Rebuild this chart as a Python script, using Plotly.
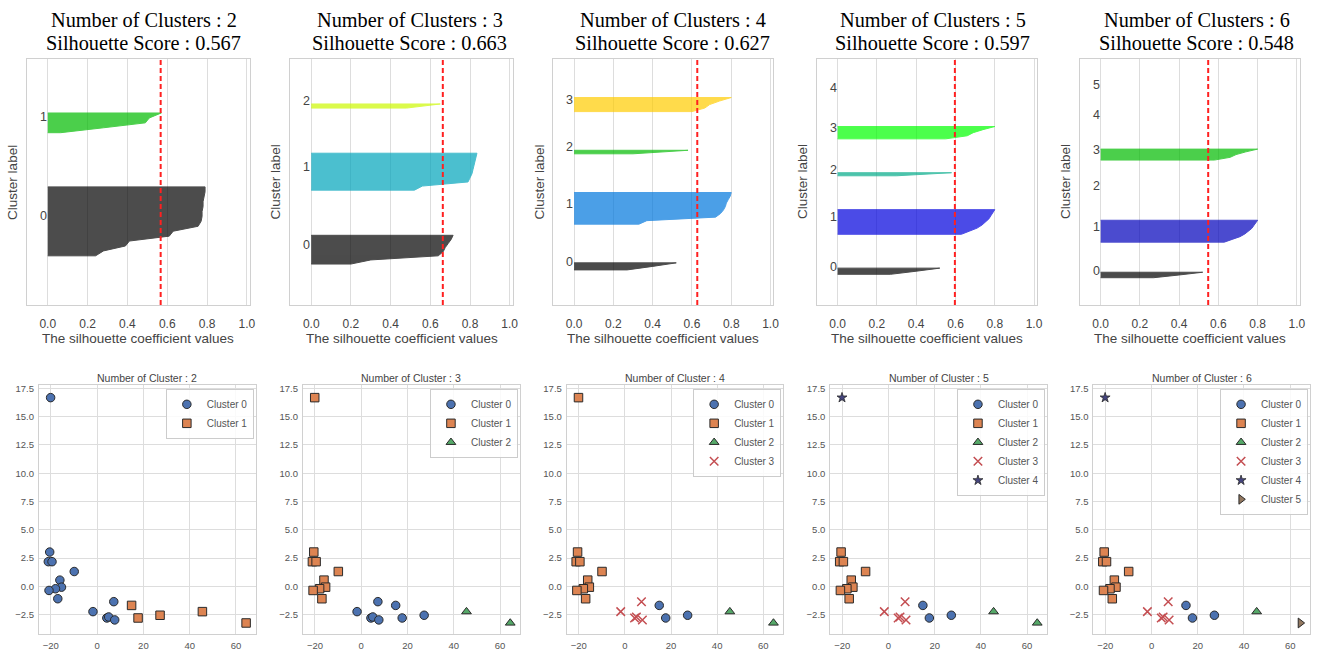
import plotly.graph_objects as go

W, H = 1327, 656

# ---------------- data ----------------
k_values = [2, 3, 4, 5, 6]
scores = [0.567, 0.663, 0.627, 0.597, 0.548]

# sorted silhouette values per cluster (ascending)
sil_k2 = [[0.24, 0.28, 0.39, 0.41, 0.61, 0.63, 0.755, 0.77, 0.775, 0.775, 0.78, 0.78, 0.785, 0.79, 0.79],
          [0.064, 0.28, 0.49, 0.51, 0.57]]
sil_k3 = [[0.2, 0.3, 0.64, 0.665, 0.675, 0.69, 0.705, 0.715],
          [0.52, 0.56, 0.79, 0.8, 0.81, 0.815, 0.82, 0.825, 0.83, 0.835],
          [0.48, 0.65]]
sil_k4 = [[0.27, 0.4, 0.52],
          [0.33, 0.37, 0.72, 0.745, 0.76, 0.77, 0.775, 0.785, 0.795, 0.8],
          [0.3, 0.58],
          [0.6, 0.665, 0.69, 0.74, 0.8]]
sil_k5 = [[0.27, 0.4, 0.52],
          [0.63, 0.67, 0.71, 0.735, 0.755, 0.77, 0.78, 0.79, 0.8],
          [0.3, 0.58],
          [0.55, 0.66, 0.69, 0.74, 0.8],
          [0.0]]
sil_k6 = [[0.27, 0.4, 0.52],
          [0.63, 0.67, 0.71, 0.735, 0.755, 0.77, 0.78, 0.79, 0.8],
          [0.0],
          [0.58, 0.66, 0.69, 0.74, 0.8],
          [0.0],
          [0.0]]
sil_all = [sil_k2, sil_k3, sil_k4, sil_k5, sil_k6]

# 2-D projected points
pts_x = [-20.1, -20.5, -21.1, -19.5, -9.9, -16.1, -15.4, -18.0, -20.8, -17.0,
         -1.8, 4.2, 5.0, 7.2, 7.6, 14.9, 17.7, 27.2, 45.5, 64.4]
pts_y = [16.67, 3.04, 2.19, 2.19, 1.32, 0.56, -0.06, -0.20, -0.35, -1.08,
         -2.22, -2.78, -2.69, -1.34, -2.95, -1.67, -2.78, -2.54, -2.22, -3.22]

labels_k2 = [0] * 15 + [1] * 5
labels_k3 = [1] * 10 + [0] * 8 + [2] * 2
labels_k4 = [1] * 10 + [3] * 5 + [0] * 3 + [2] * 2
labels_k5 = [4] + [1] * 9 + [3] * 5 + [0] * 3 + [2] * 2
labels_k6 = [4] + [1] * 9 + [3] * 5 + [0] * 3 + [2] + [5]
labels_all = [labels_k2, labels_k3, labels_k4, labels_k5, labels_k6]

x_ticks_sil = [0.0, 0.2, 0.4, 0.6, 0.8, 1.0]
x_ticks_sc = [-20, 0, 20, 40, 60]
y_ticks_sc = [-2.5, 0.0, 2.5, 5.0, 7.5, 10.0, 12.5, 15.0, 17.5]

# ---------------- styles ----------------
sil_colors = {
    2: ["#000000", "#00BB00"],
    3: ["#000000", "#00A4BB", "#CCF900"],
    4: ["#000000", "#0077DD", "#00BB00", "#FFCC00"],
    5: ["#000000", "#0000DD", "#00AA88", "#00FF00", "#FF9900"],
    6: ["#000000", "#0000BB", "#00A4BB", "#00BB00", "#CCF900", "#FF3300"],
}
sc_style = [
    dict(symbol="circle", color="#4C72B0", line=dict(color="#2a2a2a", width=1), size=8.5),
    dict(symbol="square", color="#DD8452", line=dict(color="#2a2a2a", width=1), size=8.5),
    dict(symbol="triangle-up", color="#55A868", line=dict(color="#2a2a2a", width=1), size=8.5),
    dict(symbol="x-thin-open", color="#C44E52", line=dict(color="#C44E52", width=1.5), size=8.5),
    dict(symbol="star", color="#45457E", line=dict(color="#2a2a2a", width=0.8), size=7.5),
    dict(symbol="triangle-right", color="#937860", line=dict(color="#2a2a2a", width=1), size=8.5),
]

# pixel frames
top_x = [(27, 251), (291.7, 515), (556, 777), (820.7, 1041.7), (1085, 1305.7)]
top_y = (57, 304)
bot_x = [(39, 257), (304.3, 522.3), (569.3, 786.7), (834, 1051.7), (1098.3, 1316)]
bot_y = (384, 634)
title_cx = [144.5, 411.5, 676, 937, 1202]

def px(x):
    return x / W

def py(y):
    return 1 - y / H

fig = go.Figure()
layout = dict(width=W, height=H, margin=dict(l=0, r=0, t=0, b=0),
              paper_bgcolor="white", plot_bgcolor="white", showlegend=True,
              font=dict(family="Arial, Liberation Sans, sans-serif", color="#444"))
annotations = []
grid_col = "#dddddd"
frame_col = "#d0d0d0"
serif = "Liberation Serif, Times New Roman, serif"

for i, k in enumerate(k_values):
    # ---- top: silhouette ----
    ax = 2 * i + 1
    xa, ya = f"x{ax}", f"y{ax}"
    n = len(pts_x)
    ymax = n + (k + 1) * 10
    y_lower = 10
    for c, vals in enumerate(sil_all[i]):
        size = len(vals)
        ys = list(range(y_lower, y_lower + size))
        poly_x = [0] + vals + [0]
        poly_y = [ys[0]] + ys + [ys[-1]]
        fig.add_trace(go.Scatter(x=poly_x, y=poly_y, xaxis=xa, yaxis=ya, mode="lines",
                                 fill="toself", fillcolor=sil_colors[k][c],
                                 line=dict(color=sil_colors[k][c], width=1),
                                 opacity=0.7, showlegend=False, hoverinfo="skip"))
        annotations.append(dict(x=-0.05, y=y_lower + 0.5 * size, xref=xa, yref=ya,
                                text=str(c), showarrow=False, xanchor="left", yanchor="middle",
                                yshift=3, font=dict(size=12.5, color="#444")))
        y_lower = y_lower + size + 10
    fig.add_trace(go.Scatter(x=[scores[i], scores[i]], y=[0, ymax], xaxis=xa, yaxis=ya,
                             mode="lines", line=dict(color="#FF2020", width=2, dash="5px,3px"),
                             showlegend=False, hoverinfo="skip"))
    layout[f"xaxis{ax}"] = dict(domain=[px(top_x[i][0]), px(top_x[i][1])], anchor=ya,
                                range=[-0.105, 1.015], tickvals=x_ticks_sil, tickformat=".1f",
                                showgrid=True, gridcolor=grid_col, gridwidth=1, zeroline=False,
                                showline=True, mirror=True, linecolor=frame_col,
                                ticks="outside", ticklen=8, tickcolor="rgba(0,0,0,0)",
                                tickfont=dict(size=12, color="#444"))
    layout[f"yaxis{ax}"] = dict(domain=[py(top_y[1]), py(top_y[0])], anchor=xa,
                                range=[0, ymax], showticklabels=False, showgrid=False,
                                zeroline=False, showline=True, mirror=True, linecolor=frame_col)
    # titles
    annotations.append(dict(x=px(title_cx[i]), y=py(18), xref="paper", yref="paper",
                            text=f"Number of Clusters : {k}", showarrow=False,
                            xanchor="center", yanchor="middle",
                            font=dict(family=serif, size=20.3, color="#000")))
    annotations.append(dict(x=px(title_cx[i]), y=py(41), xref="paper", yref="paper",
                            text=f"Silhouette Score : {scores[i]:.3f}", showarrow=False,
                            xanchor="center", yanchor="middle",
                            font=dict(family=serif, size=20.3, color="#000")))
    cx = (top_x[i][0] + top_x[i][1]) / 2
    annotations.append(dict(x=px(cx), y=py(338), xref="paper", yref="paper",
                            text="The silhouette coefficient values", showarrow=False,
                            xanchor="center", yanchor="middle", font=dict(size=13.5, color="#444")))
    annotations.append(dict(x=px(top_x[i][0] - 14), y=py((top_y[0] + top_y[1]) / 2), xref="paper", yref="paper",
                            text="Cluster label", showarrow=False, textangle=-90,
                            xanchor="center", yanchor="middle", font=dict(size=13.5, color="#444")))

    # ---- bottom: scatter ----
    bx = 2 * i + 2
    xb, yb = f"x{bx}", f"y{bx}"
    leg = "legend" if i == 0 else f"legend{i + 1}"
    labs = labels_all[i]
    for c in range(k):
        xs = [pts_x[j] for j in range(len(pts_x)) if labs[j] == c]
        ys = [pts_y[j] for j in range(len(pts_y)) if labs[j] == c]
        st = sc_style[c]
        fig.add_trace(go.Scatter(x=xs, y=ys, xaxis=xb, yaxis=yb, mode="markers",
                                 name=f"Cluster {c}", legend=leg,
                                 marker=dict(symbol=st["symbol"], color=st["color"], size=st["size"],
                                             line=st["line"])))
    layout[f"xaxis{bx}"] = dict(domain=[px(bot_x[i][0]), px(bot_x[i][1])], anchor=yb,
                                range=[-25.2, 68.6], tickvals=x_ticks_sc,
                                showgrid=True, gridcolor=grid_col, zeroline=False,
                                showline=True, mirror=True, linecolor=frame_col,
                                ticks="outside", ticklen=3, tickcolor="rgba(0,0,0,0)",
                                tickfont=dict(size=9.5, color="#555"))
    layout[f"yaxis{bx}"] = dict(domain=[py(bot_y[1]), py(bot_y[0])], anchor=xb,
                                range=[-4.2, 17.8], tickvals=y_ticks_sc, tickformat=".1f",
                                showgrid=True, gridcolor=grid_col, zeroline=False,
                                showline=True, mirror=True, linecolor=frame_col,
                                ticks="outside", ticklen=2, tickcolor="rgba(0,0,0,0)",
                                tickfont=dict(size=9.5, color="#555"))
    layout[leg] = dict(x=px(bot_x[i][1] - 2), y=py(bot_y[0] + 4), xanchor="right", yanchor="top",
                       bgcolor="rgba(255,255,255,0.85)", bordercolor="#cccccc", borderwidth=1,
                       font=dict(size=10, color="#555"), tracegroupgap=0, itemwidth=30)
    bcx = (bot_x[i][0] + bot_x[i][1]) / 2
    annotations.append(dict(x=px(bcx), y=py(377), xref="paper", yref="paper",
                            text=f"Number of Cluster : {k}", showarrow=False,
                            xanchor="center", yanchor="middle", font=dict(size=10.5, color="#444")))

layout["annotations"] = annotations
fig.update_layout(**layout)
fig.write_html("out.html", config={"displayModeBar": False},
               post_script="document.body.style.margin='0';document.body.style.overflow='hidden';")
